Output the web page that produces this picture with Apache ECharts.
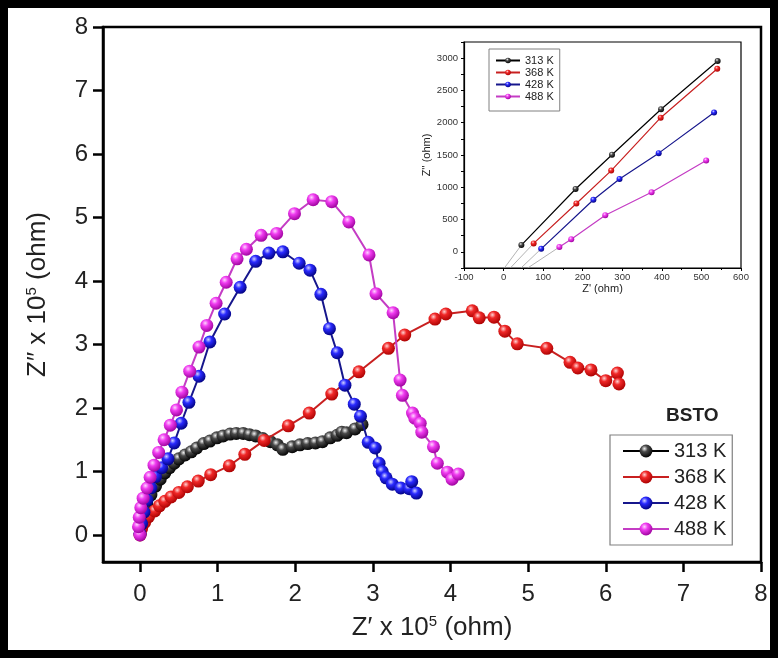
<!DOCTYPE html>
<html>
<head>
<meta charset="utf-8">
<script src="https://cdn.jsdelivr.net/npm/echarts@6/dist/echarts.min.js"></script>
<style>
  html, body { margin: 0; padding: 0; background: #fff; }
  #chart { width: 778px; height: 659px; }
</style>
</head>
<body>
<div id="chart"></div>
<script>
// Nyquist data for BSTO at four temperatures, Z' and Z'' in units of 1e5 ohm
const seriesNames = ['313 K', '368 K', '428 K', '488 K'];
const mainXTicks = [0, 1, 2, 3, 4, 5, 6, 7, 8];
const mainYTicks = [0, 1, 2, 3, 4, 5, 6, 7, 8];
const insetXTicks = [-100, 0, 100, 200, 300, 400, 500, 600];
const insetYTicks = [0, 500, 1000, 1500, 2000, 2500, 3000];

const nyq313 = [[0.00,0.02],[0.02,0.15],[0.05,0.32],[0.09,0.48],[0.14,0.63],[0.20,0.77],[0.26,0.88],[0.32,0.98],
  [0.38,1.06],[0.44,1.13],[0.50,1.20],[0.58,1.26],[0.66,1.31],[0.73,1.37],[0.82,1.44],[0.90,1.48],[0.99,1.53],
  [1.07,1.56],[1.16,1.59],[1.24,1.60],[1.33,1.60],[1.41,1.58],[1.49,1.56],[1.58,1.52],[1.68,1.47],[1.77,1.42],
  [1.84,1.35],[1.96,1.39],[2.06,1.42],[2.16,1.44],[2.26,1.45],[2.35,1.47],[2.45,1.53],[2.54,1.57],[2.60,1.62],
  [2.66,1.61],[2.77,1.67],[2.86,1.74]];
const nyq368 = [[0.00,0.00],[0.02,0.10],[0.06,0.20],[0.11,0.29],[0.19,0.38],[0.25,0.46],[0.32,0.53],[0.40,0.60],
  [0.50,0.67],[0.61,0.76],[0.75,0.85],[0.91,0.95],[1.15,1.09],[1.35,1.27],[1.60,1.49],[1.91,1.72],[2.18,1.92],
  [2.47,2.22],[2.82,2.57],[3.20,2.94],[3.41,3.15],[3.80,3.40],[3.94,3.48],[4.28,3.53],[4.37,3.42],[4.56,3.43],
  [4.70,3.21],[4.86,3.01],[5.24,2.94],[5.54,2.72],[5.64,2.63],[5.81,2.60],[6.00,2.43],[6.15,2.55],[6.17,2.38]];
const nyq428 = [[0.00,0.02],[0.02,0.18],[0.05,0.36],[0.09,0.55],[0.14,0.74],[0.20,0.92],[0.28,1.06],[0.36,1.20],
  [0.44,1.45],[0.53,1.76],[0.63,2.09],[0.76,2.50],[0.90,3.04],[1.09,3.48],[1.29,3.90],[1.49,4.31],[1.66,4.44],
  [1.84,4.46],[2.05,4.28],[2.19,4.17],[2.33,3.79],[2.44,3.25],[2.54,2.87],[2.64,2.36],[2.76,2.06],[2.84,1.87],
  [2.94,1.46],[3.03,1.37],[3.08,1.13],[3.12,1.00],[3.17,0.90],[3.25,0.80],[3.36,0.74],[3.47,0.73],[3.50,0.84],
  [3.56,0.66]];
const nyq488 = [[0.00,0.00],[-0.02,0.13],[-0.01,0.28],[0.01,0.43],[0.04,0.58],[0.09,0.74],[0.13,0.91],[0.18,1.10],
  [0.24,1.30],[0.31,1.50],[0.39,1.73],[0.47,1.97],[0.54,2.25],[0.64,2.58],[0.76,2.96],[0.86,3.30],[0.98,3.65],
  [1.11,3.98],[1.25,4.35],[1.37,4.50],[1.56,4.72],[1.76,4.75],[1.99,5.06],[2.23,5.28],[2.47,5.25],[2.69,4.93],
  [2.95,4.41],[3.04,3.80],[3.26,3.50],[3.35,2.44],[3.38,2.20],[3.51,1.92],[3.54,1.84],[3.61,1.76],[3.63,1.62],
  [3.78,1.39],[3.83,1.13],[3.96,0.99],[4.02,0.88],[4.10,0.96]];

// High-frequency region in ohm
const hf313 = [[45,105],[182,973],[274,1504],[398,2208],[541,2955]];
const hf368 = [[76,131],[184,749],[272,1259],[397,2078],[540,2835]];
const hf428 = [[95,47],[227,807],[293,1129],[392,1529],[532,2159]];
const hf488 = [[141,75],[171,195],[257,568],[374,922],[512,1415]];
// linear fits extended down to the lower edge
const fit313 = [[2,-250],[45,105]];
const fit368 = [[17,-250],[76,131]];
const fit428 = [[44,-250],[95,47]];
const fit488 = [[61,-250],[141,75]];

const lineColors = ['#000000', '#c82020', '#16168c', '#c43cc4'];
const ballStops = [
  ['#f2f2f2', '#4a4a4a', '#000000'],
  ['#ffd2d2', '#f02828', '#a80000'],
  ['#d0d0ff', '#2a2aff', '#00007a'],
  ['#ffd4ff', '#f03cf0', '#9a009a']
];
function ball(i) {
  const s = ballStops[i];
  return { type: 'radial', x: 0.38, y: 0.32, r: 0.72,
    colorStops: [{ offset: 0, color: s[0] }, { offset: 0.35, color: s[1] }, { offset: 1, color: s[2] }] };
}

const narrow = "'Liberation Sans Narrow', 'Arial Narrow', 'Liberation Sans', Arial, sans-serif";
const sans = "'Liberation Sans', Arial, sans-serif";
const plain = v => String(v);

const mainData = [nyq313, nyq368, nyq428, nyq488];
const hfData = [hf313, hf368, hf428, hf488];
const fitData = [fit313, fit368, fit428, fit488];

const series = [];
mainData.forEach((d, i) => {
  series.push({
    name: seriesNames[i], type: 'line', xAxisIndex: 0, yAxisIndex: 0, data: d,
    symbol: 'circle', symbolSize: 13, showSymbol: true,
    lineStyle: { color: lineColors[i], width: 2 },
    itemStyle: { color: ball(i) },
    z: 3 + i
  });
});
fitData.forEach((d, i) => {
  series.push({
    name: 'fit ' + seriesNames[i], type: 'line', xAxisIndex: 1, yAxisIndex: 1, data: d,
    symbol: 'none', lineStyle: { color: '#a0a0a0', width: 0.8 }, z: 3
  });
});
hfData.forEach((d, i) => {
  series.push({
    name: seriesNames[i], type: 'line', xAxisIndex: 1, yAxisIndex: 1, data: d,
    symbol: 'circle', symbolSize: 6,
    lineStyle: { color: lineColors[i], width: 1.2 },
    itemStyle: { color: ball(i) },
    z: 4 + i
  });
});

const chart = echarts.init(document.getElementById('chart'), null, { renderer: 'canvas' });
chart.setOption({
  animation: false,
  backgroundColor: '#fff',
  grid: [
    { left: 103, right: 17, top: 27, bottom: 97, show: true, borderColor: '#000', borderWidth: 2.5, backgroundColor: 'transparent' },
    { left: 464, right: 37, top: 42, bottom: 391, show: true, borderColor: '#000', borderWidth: 1.2, backgroundColor: '#fff' }
  ],
  xAxis: [
    {
      type: 'value', gridIndex: 0, min: -0.477, max: 8,
      axisLine: { show: true, onZero: false, lineStyle: { color: '#000', width: 2.5 } },
      axisTick: { show: true, customValues: mainXTicks, length: 10, lineStyle: { color: '#000', width: 2.5 } },
      axisLabel: { customValues: mainXTicks, formatter: plain, margin: 20, color: '#222', fontSize: 24, fontFamily: narrow },
      splitLine: { show: false },
      name: 'Z\u2032 x 10{s|5} (ohm)', nameLocation: 'middle', nameGap: 52,
      nameTextStyle: { color: '#222', fontSize: 26, fontFamily: narrow,
        rich: { s: { fontSize: 15, fontFamily: narrow, color: '#222', verticalAlign: 'top', padding: [0, 0, 12, 0] } } }
    },
    {
      type: 'value', gridIndex: 1, min: -100, max: 600, interval: 100,
      axisLine: { show: true, onZero: false, lineStyle: { color: '#000', width: 1.2 } },
      axisTick: { show: true, length: 3, lineStyle: { color: '#000', width: 1 } },
      minorTick: { show: true, splitNumber: 2, length: 2, lineStyle: { color: '#000', width: 1 } },
      axisLabel: { customValues: insetXTicks, formatter: plain, margin: 4, color: '#333', fontSize: 9.5, fontFamily: sans },
      splitLine: { show: false },
      name: "Z' (ohm)", nameLocation: 'middle', nameGap: 15,
      nameTextStyle: { color: '#222', fontSize: 11, fontFamily: sans }
    }
  ],
  yAxis: [
    {
      type: 'value', gridIndex: 0, min: -0.425, max: 8,
      axisLine: { show: true, onZero: false, lineStyle: { color: '#000', width: 2.5 } },
      axisTick: { show: true, customValues: mainYTicks, length: 10, lineStyle: { color: '#000', width: 2.5 } },
      axisLabel: { customValues: mainYTicks, formatter: plain, margin: 15, color: '#222', fontSize: 24, fontFamily: narrow },
      splitLine: { show: false },
      name: 'Z\u2033 x 10{s|5} (ohm)', nameLocation: 'middle', nameGap: 52, nameRotate: 90,
      nameTextStyle: { color: '#222', fontSize: 26, fontFamily: narrow,
        rich: { s: { fontSize: 15, fontFamily: narrow, color: '#222', verticalAlign: 'top', padding: [0, 0, 12, 0] } } }
    },
    {
      type: 'value', gridIndex: 1, min: -250, max: 3250, interval: 250,
      axisLine: { show: true, onZero: false, lineStyle: { color: '#000', width: 1.2 } },
      axisTick: { show: true, length: 3, lineStyle: { color: '#000', width: 1 } },
      axisLabel: { customValues: insetYTicks, formatter: plain, margin: 6, color: '#333', fontSize: 9.5, fontFamily: sans },
      splitLine: { show: false },
      name: "Z'' (ohm)", nameLocation: 'middle', nameGap: 32, nameRotate: 90,
      nameTextStyle: { color: '#222', fontSize: 11, fontFamily: sans }
    }
  ],
  legend: [
    {
      data: seriesNames, orient: 'vertical', left: 610, top: 435,
      itemWidth: 46, itemHeight: 16, itemGap: 6,
      padding: [6, 6, 6, 12], borderColor: '#808080', borderWidth: 1.2,
      textStyle: { color: '#222', fontSize: 20, fontFamily: sans },
      selectedMode: false
    },
    {
      data: seriesNames, orient: 'vertical', left: 489, top: 49,
      itemWidth: 24, itemHeight: 7, itemGap: 1,
      padding: [6, 6, 9, 6], borderColor: '#808080', borderWidth: 1,
      textStyle: { color: '#222', fontSize: 11, lineHeight: 10, fontFamily: sans },
      selectedMode: false
    }
  ],
  graphic: [
    { type: 'text', left: 666, top: 406, style: { text: 'BSTO', fill: '#222', font: "bold 19px 'Liberation Sans', Arial, sans-serif" } },
    { type: 'rect', z: 100, silent: true, shape: { x: 4, y: 4, width: 770, height: 650 },
      style: { fill: 'none', stroke: '#000', lineWidth: 8 } }
  ],
  series: series
});
</script>
</body>
</html>
